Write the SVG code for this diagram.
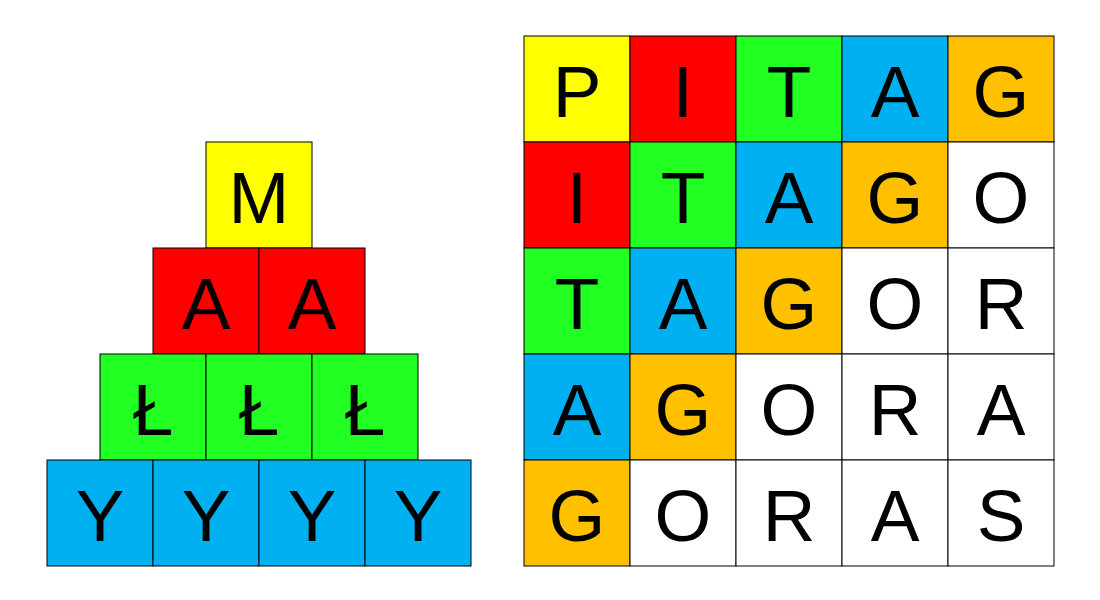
<svg xmlns="http://www.w3.org/2000/svg" width="1100" height="600" viewBox="0 0 1100 600">
<style>
rect{stroke:#000;stroke-width:1}
.y{fill:#FFFF00}.r{fill:#FF0000}.g{fill:#22FF22}.b{fill:#00B0F0}.o{fill:#FFC000}.w{fill:#FFFFFF}
text{font-family:"Liberation Sans",Arial,sans-serif;font-size:73px;fill:#000;text-anchor:middle}
</style>
<rect width="1100" height="600" fill="#fff" style="stroke:none"/>
<g id="pyramid">
<g id="p-M"><rect class="y" x="206" y="142" width="106" height="106"/><text x="259" y="223">M</text></g>
<g id="p-A1"><rect class="r" x="153" y="248" width="106" height="106"/><text x="206" y="329">A</text></g>
<g id="p-A2"><rect class="r" x="259" y="248" width="106" height="106"/><text x="312" y="329">A</text></g>
<g id="p-L1"><rect class="g" x="100" y="354" width="106" height="106"/><text x="153" y="435">Ł</text></g>
<g id="p-L2"><rect class="g" x="206" y="354" width="106" height="106"/><text x="259" y="435">Ł</text></g>
<g id="p-L3"><rect class="g" x="312" y="354" width="106" height="106"/><text x="365" y="435">Ł</text></g>
<g id="p-Y1"><rect class="b" x="47" y="460" width="106" height="106"/><text x="100" y="541">Y</text></g>
<g id="p-Y2"><rect class="b" x="153" y="460" width="106" height="106"/><text x="206" y="541">Y</text></g>
<g id="p-Y3"><rect class="b" x="259" y="460" width="106" height="106"/><text x="312" y="541">Y</text></g>
<g id="p-Y4"><rect class="b" x="365" y="460" width="106" height="106"/><text x="418" y="541">Y</text></g>
</g>
<g id="grid">
<g id="g00"><rect class="y" x="524" y="36" width="106" height="106"/><text x="577" y="117">P</text></g>
<g id="g01"><rect class="r" x="630" y="36" width="106" height="106"/><text x="683" y="117">I</text></g>
<g id="g02"><rect class="g" x="736" y="36" width="106" height="106"/><text x="789" y="117">T</text></g>
<g id="g03"><rect class="b" x="842" y="36" width="106" height="106"/><text x="895" y="117">A</text></g>
<g id="g04"><rect class="o" x="948" y="36" width="106" height="106"/><text x="1001" y="117">G</text></g>
<g id="g10"><rect class="r" x="524" y="142" width="106" height="106"/><text x="577" y="223">I</text></g>
<g id="g11"><rect class="g" x="630" y="142" width="106" height="106"/><text x="683" y="223">T</text></g>
<g id="g12"><rect class="b" x="736" y="142" width="106" height="106"/><text x="789" y="223">A</text></g>
<g id="g13"><rect class="o" x="842" y="142" width="106" height="106"/><text x="895" y="223">G</text></g>
<g id="g14"><rect class="w" x="948" y="142" width="106" height="106"/><text x="1001" y="223">O</text></g>
<g id="g20"><rect class="g" x="524" y="248" width="106" height="106"/><text x="577" y="329">T</text></g>
<g id="g21"><rect class="b" x="630" y="248" width="106" height="106"/><text x="683" y="329">A</text></g>
<g id="g22"><rect class="o" x="736" y="248" width="106" height="106"/><text x="789" y="329">G</text></g>
<g id="g23"><rect class="w" x="842" y="248" width="106" height="106"/><text x="895" y="329">O</text></g>
<g id="g24"><rect class="w" x="948" y="248" width="106" height="106"/><text x="1001" y="329">R</text></g>
<g id="g30"><rect class="b" x="524" y="354" width="106" height="106"/><text x="577" y="435">A</text></g>
<g id="g31"><rect class="o" x="630" y="354" width="106" height="106"/><text x="683" y="435">G</text></g>
<g id="g32"><rect class="w" x="736" y="354" width="106" height="106"/><text x="789" y="435">O</text></g>
<g id="g33"><rect class="w" x="842" y="354" width="106" height="106"/><text x="895" y="435">R</text></g>
<g id="g34"><rect class="w" x="948" y="354" width="106" height="106"/><text x="1001" y="435">A</text></g>
<g id="g40"><rect class="o" x="524" y="460" width="106" height="106"/><text x="577" y="541">G</text></g>
<g id="g41"><rect class="w" x="630" y="460" width="106" height="106"/><text x="683" y="541">O</text></g>
<g id="g42"><rect class="w" x="736" y="460" width="106" height="106"/><text x="789" y="541">R</text></g>
<g id="g43"><rect class="w" x="842" y="460" width="106" height="106"/><text x="895" y="541">A</text></g>
<g id="g44"><rect class="w" x="948" y="460" width="106" height="106"/><text x="1001" y="541">S</text></g>
</g>
</svg>
